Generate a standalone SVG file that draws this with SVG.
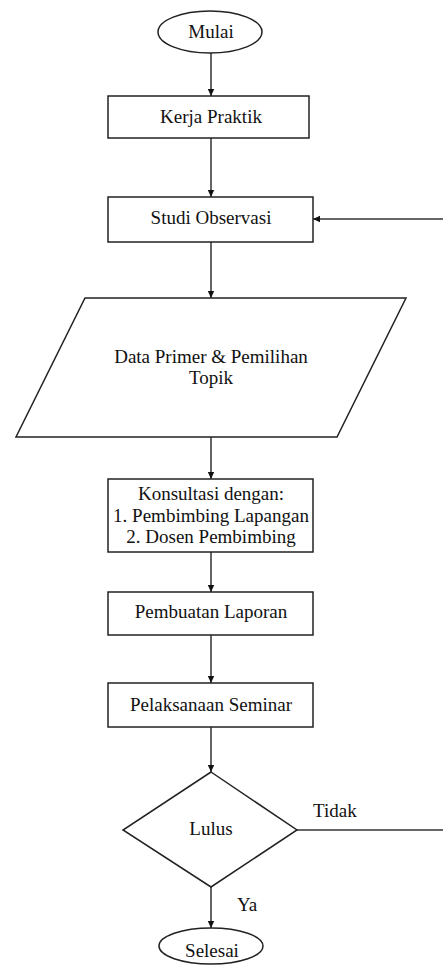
<svg xmlns="http://www.w3.org/2000/svg" width="443" height="967" viewBox="0 0 443 967">
<style>
.s{fill:#fff;stroke:#222;stroke-width:1.5}
.t{font-family:'Liberation Serif','DejaVu Serif',serif;font-size:19px;fill:#111;text-anchor:middle}
.l{font-family:'Liberation Serif','DejaVu Serif',serif;font-size:19px;fill:#111}
.c{fill:none;stroke:#333;stroke-width:1.5}
</style>
<defs>
<marker id="a" markerWidth="8" markerHeight="8" refX="7" refY="4" orient="auto" markerUnits="userSpaceOnUse">
<path d="M0,0.8 L7,4 L0,7.2 Z" fill="#111"/>
</marker>
</defs>
<rect width="443" height="967" fill="#fff"/>
<g id="connectors">
<line class="c" x1="211" y1="53" x2="211" y2="96" marker-end="url(#a)"/>
<line class="c" x1="211" y1="138" x2="211" y2="197" marker-end="url(#a)"/>
<line class="c" x1="211" y1="242" x2="211" y2="298" marker-end="url(#a)"/>
<line class="c" x1="211" y1="437" x2="211" y2="479" marker-end="url(#a)"/>
<line class="c" x1="211" y1="552" x2="211" y2="592" marker-end="url(#a)"/>
<line class="c" x1="211" y1="635" x2="211" y2="683" marker-end="url(#a)"/>
<line class="c" x1="211" y1="727" x2="211" y2="772" marker-end="url(#a)"/>
<line class="c" x1="211" y1="887" x2="211" y2="928" marker-end="url(#a)"/>
<line class="c" x1="297" y1="830" x2="443" y2="830"/>
<line class="c" x1="443" y1="219" x2="313" y2="219" marker-end="url(#a)"/>
<text class="l" x="313" y="817">Tidak</text>
<text class="l" x="237" y="911">Ya</text>
</g>
<g id="mulai">
<ellipse class="s" cx="210" cy="32" rx="52" ry="21"/>
<text class="t" x="211" y="38">Mulai</text>
</g>
<g id="kerja">
<rect class="s" x="108" y="96" width="201" height="42"/>
<text class="t" x="211" y="123">Kerja Praktik</text>
</g>
<g id="studi">
<rect class="s" x="108" y="197" width="205" height="45"/>
<text class="t" x="211" y="224">Studi Observasi</text>
</g>
<g id="data">
<polygon class="s" points="85,298 406,298 337,437 16,437"/>
<text class="t" x="211" y="363">Data Primer &amp; Pemilihan</text>
<text class="t" x="211" y="384">Topik</text>
</g>
<g id="konsultasi">
<rect class="s" x="108" y="479" width="205" height="73"/>
<text class="t" x="211" y="500">Konsultasi dengan:</text>
<text class="t" x="211" y="522">1. Pembimbing Lapangan</text>
<text class="t" x="211" y="543">2. Dosen Pembimbing</text>
</g>
<g id="laporan">
<rect class="s" x="108" y="592" width="205" height="43"/>
<text class="t" x="211" y="618">Pembuatan Laporan</text>
</g>
<g id="seminar">
<rect class="s" x="108" y="683" width="205" height="44"/>
<text class="t" x="211" y="711">Pelaksanaan Seminar</text>
</g>
<g id="lulus">
<polygon class="s" points="211,772 297,830 211,887 123,830"/>
<text class="t" x="211" y="835">Lulus</text>
</g>
<g id="selesai">
<ellipse class="s" cx="211" cy="946" rx="52" ry="18"/>
<text class="t" x="212" y="957">Selesai</text>
</g>
</svg>
